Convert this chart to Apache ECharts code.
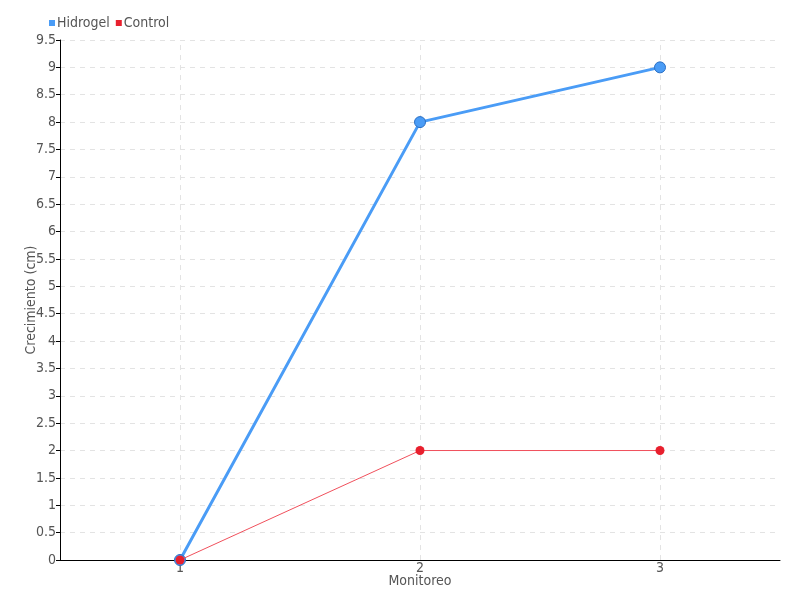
<!DOCTYPE html>
<html><head><meta charset="utf-8">
<script src="https://cdn.jsdelivr.net/npm/echarts@6/dist/echarts.min.js"></script>
<style>html,body{margin:0;padding:0;background:#fff}#c{width:800px;height:600px}</style>
</head><body><div id="c"></div>
<script>
const categories = ['1', '2', '3'];
const hidrogel = [0, 8, 9];
const control = [0, 2, 2];
const seriesNames = ['Hidrogel', 'Control'];
const FONT = '"DejaVu Sans Condensed","Liberation Sans Narrow",sans-serif';
const chart = echarts.init(document.getElementById('c'), null, {renderer: 'canvas'});
chart.setOption({
  animation: false,
  textStyle: {fontFamily: FONT},
  legend: {
    left: 44, top: 11, itemWidth: 6, itemHeight: 6, itemGap: 6, icon: 'rect',
    itemStyle: {borderWidth: 0},
    textStyle: {fontFamily: FONT, fontSize: 14, color: '#555', padding: [0,0,0,-3]},
    data: seriesNames
  },
  grid: {left: 60, right: 20, top: 40, bottom: 40, containLabel: false},
  xAxis: {
    type: 'category', data: categories, boundaryGap: true,
    name: 'Monitoreo', nameLocation: 'middle', nameGap: 14, nameMoveOverlap: false,
    nameTextStyle: {fontFamily: FONT, fontSize: 14, color: '#555'},
    axisLine: {lineStyle: {color: '#000', width: 1}},
    axisTick: {alignWithLabel: true, length: 6, lineStyle: {color: '#555'}},
    axisLabel: {fontFamily: FONT, fontSize: 14, color: '#555', margin: 1},
    splitLine: {show: false}
  },
  yAxis: {
    type: 'value', min: 0, max: 9.5, interval: 0.5,
    name: 'Crecimiento (cm)', nameLocation: 'middle', nameGap: 22, nameRotate: 90, nameMoveOverlap: false,
    nameTextStyle: {fontFamily: FONT, fontSize: 14, color: '#555'},
    axisLine: {show: true, lineStyle: {color: '#000', width: 1}},
    axisTick: {show: true, length: 4, lineStyle: {color: '#000'}},
    axisLabel: {fontFamily: FONT, fontSize: 14, color: '#555', margin: 4},
    splitLine: {show: true, lineStyle: {color: '#e3e3e3', type: [5, 5]}}
  },
  series: [
    {
      name: seriesNames[0], type: 'line', data: hidrogel, z: 2,
      symbol: 'circle', symbolSize: 11,
      lineStyle: {color: '#4a9cf6', width: 3},
      itemStyle: {color: '#4a9cf6', borderColor: '#2a6fc4', borderWidth: 1},
      markLine: {
        silent: true, symbol: 'none', z: 1,
        label: {show: false},
        lineStyle: {color: '#e3e3e3', type: [5, 5], width: 1},
        data: categories.map(c => ({xAxis: c}))
      }
    },
    {
      name: seriesNames[1], type: 'line', data: control, z: 3,
      symbol: 'circle', symbolSize: 9,
      lineStyle: {color: '#f0505c', width: 1},
      itemStyle: {color: '#e8202e', borderWidth: 0}
    }
  ]
});
</script></body></html>
